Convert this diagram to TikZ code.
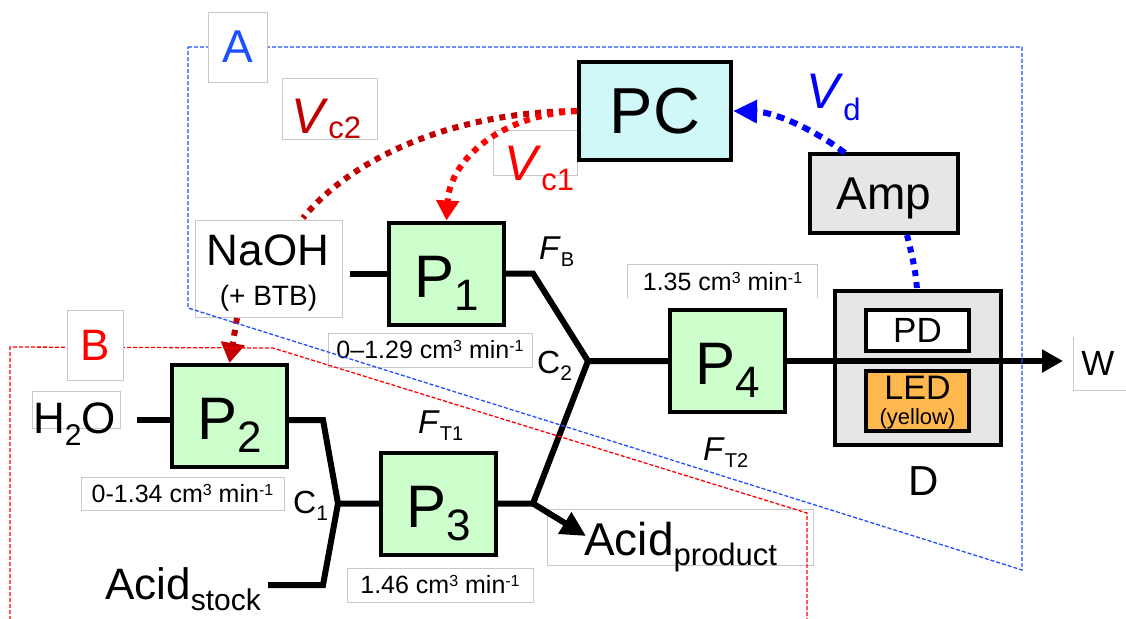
\documentclass[tikz,border=0pt]{standalone}
\usepackage{fontspec}
\setmainfont{Liberation Sans}
\usetikzlibrary{arrows.meta}
\definecolor{pgreen}{HTML}{CCFFCC}
\definecolor{pccyan}{HTML}{D0F8F8}
\definecolor{boxgray}{HTML}{E6E6E6}
\definecolor{ledorange}{HTML}{FFB84D}
\definecolor{darkred}{RGB}{192,0,0}
\definecolor{brightred}{RGB}{255,0,0}
\definecolor{sigblue}{RGB}{0,0,255}
\definecolor{regblue}{RGB}{30,80,255}
\definecolor{lgray}{RGB}{200,200,200}
\newcommand\fs[1]{\fontsize{#1pt}{#1pt}\selectfont}
\newcommand\lsub[3]{\raisebox{-#2pt}{\fs{#1}#3}}
\newcommand\sups[1]{\raisebox{7pt}{\fs{16}#1}}
\begin{document}
\begin{tikzpicture}[x=1pt,y=-1pt,
  tube/.style={line width=6pt, line join=miter},
  pbox/.style={draw, line width=4pt, fill=pgreen, minimum width=115pt, minimum height=102pt, inner sep=0pt, text height=50pt, text depth=3pt},
  lbox/.style={draw=lgray, line width=0.8pt, inner sep=0pt},
  sig/.style={line width=6pt, dash pattern=on 6pt off 6pt},
  regline/.style={line width=1.3pt, dash pattern=on 4pt off 2pt},
  txt/.style={inner sep=0pt, anchor=base west},
  ctxt/.style={inner sep=0pt, anchor=base},
  rate/.style={lbox, font=\fs{25}}
]
\useasboundingbox (0,0) rectangle (1126,618);

% ---------- label boxes (outline only) ----------
\node[lbox, minimum width=147pt, minimum height=97pt] (naohbox) at (268.5,268.5) {};
\node[lbox, minimum width=88pt, minimum height=37pt] (h2obox) at (76,409.5) {};
\node[lbox, minimum width=95pt, minimum height=61pt] (vc2box) at (329.5,108.5) {};
\node[lbox, minimum width=84pt, minimum height=45pt] (vc1box) at (535,152.5) {};
\node[lbox, minimum width=266pt, minimum height=56pt] (acpbox) at (680,537) {};
\node[inner sep=0pt, minimum width=60pt, minimum height=53pt] (wbox) at (1104,363.5) {};
\draw[lgray, line width=0.8pt] (wbox.north west) -- (wbox.south west) -- (wbox.south east);

% ---------- rate labels ----------
\node[rate, minimum width=204pt, minimum height=34pt] (r1) at (430,350) {0–1.29 cm\sups{3} min\sups{-1}};
\node[rate, minimum width=203pt, minimum height=33pt] (r2) at (182.5,493.5) {0-1.34 cm\sups{3} min\sups{-1}};
\node[rate, minimum width=186pt, minimum height=34pt] (r3) at (440,585) {1.46 cm\sups{3} min\sups{-1}};
\node[inner sep=0pt, font=\fs{25}, minimum width=189pt, minimum height=33pt] (r4) at (722.5,281.5) {1.35 cm\sups{3} min\sups{-1}};
\draw[lgray, line width=0.8pt] (r4.south west) -- (r4.north west) -- (r4.north east) -- (r4.south east);

% ---------- main boxes ----------
\node[draw, line width=4pt, fill=pccyan, minimum width=152pt, minimum height=98pt, inner sep=0pt, font=\fs{65}] (PC) at (655,111) {PC};
\node[draw, line width=4pt, fill=boxgray, minimum width=148pt, minimum height=79pt, inner sep=0pt, font=\fs{46}, text depth=0pt] (Amp) at (884,193.5) {Amp};
\node[pbox] (P1) at (446.5,273.5) {\fs{60}P\lsub{44}{13}{1}};
\node[pbox] (P2) at (229.5,416) {\fs{60}P\lsub{44}{13}{2}};
\node[pbox] (P3) at (438.5,503.5) {\fs{60}P\lsub{44}{13}{3}};
\node[pbox] (P4) at (727.5,361) {\fs{60}P\lsub{44}{13}{4}};
\node[draw, line width=4pt, fill=boxgray, minimum width=166pt, minimum height=154pt, inner sep=0pt] (D) at (918,368) {};
\node[draw, line width=4pt, fill=white, minimum width=103pt, minimum height=41pt, inner sep=0pt, font=\fs{35}] (PD) at (917.5,330.5) {PD};
\node[draw, line width=4pt, fill=ledorange, minimum width=103pt, minimum height=60pt, inner sep=0pt] (LED) at (917.5,401) {};
\node[ctxt, font=\fs{34}] (ledt) at (917.5,399) {LED};
\node[ctxt, font=\fs{22}] (ledy) at (917.5,424) {(yellow)};

% ---------- texts ----------
\node[ctxt, font=\fs{44}] (naoh) at (268,265) {NaOH};
\node[ctxt, font=\fs{28}] (btb) at (268.5,305) {(+ BTB)};
\node[txt, font=\fs{44}] (h2o) at (33,433) {H\lsub{30}{12}{2}O};
\node[txt, font=\fs{44}] (acids) at (105,599) {Acid\lsub{30}{11}{stock}};
\node[txt, font=\fs{46}] (acidp) at (584,555) {Acid\lsub{31}{10}{product}};
\node[ctxt, font=\fs{42}] (Dl) at (924,495) {D};
\node[ctxt, font=\fs{35}] (W) at (1098,375) {W};
\node[txt, font=\fs{33}] (FB) at (539,259) {\textit{F}\lsub{20}{7}{B}};
\node[txt, font=\fs{33}] (FT1) at (418,433) {\textit{F}\lsub{20}{7}{T1}};
\node[txt, font=\fs{33}] (FT2) at (703,460) {\textit{F}\lsub{20}{7}{T2}};
\node[txt, font=\fs{32}] (C2) at (537,373) {C\lsub{21}{7}{2}};
\node[txt, font=\fs{32}] (C1) at (293,513) {C\lsub{21}{7}{1}};
\node[txt, font=\fs{50}, text=darkred] (Vc2) at (291,133) {\textit{V}\lsub{31}{5}{c2}};
\node[txt, font=\fs{50}, text=brightred] (Vc1) at (504,180) {\textit{V}\lsub{31}{10}{c1}};
\node[txt, font=\fs{50}, text=sigblue] (Vd) at (806,108) {\textit{V}\lsub{31}{12}{d}};

% ---------- coordinates ----------
\coordinate (nOut) at (350,273.5);
\coordinate (b1) at (533,273.5);
\coordinate (c2) at (588,361);
\coordinate (j3) at (533,503.5);
\coordinate (aTip) at (586,536);
\coordinate (h2oOut) at (137,420);
\coordinate (b2) at (323,420);
\coordinate (c1) at (338,503.5);
\coordinate (b3) at (323,585);
\coordinate (sOut) at (268,585);
\coordinate (wTip) at (1063,361);
\coordinate (nTop) at (303,218);
\coordinate (nBot) at (237,318);
\coordinate (ampTop) at (845,153);
\coordinate (ampBot) at (907,235);
\coordinate (dTop) at (917,290);

% ---------- tubes ----------
\draw[tube] (nOut) -- (P1.west);
\draw[tube] (P1.east) -- (b1) -- (c2) -- (P4.west);
\draw[tube] (P3.east) -- (j3) -- (c2);
\draw[tube, -{Triangle[length=25pt,width=24pt]}] (j3) -- (aTip);
\draw[tube] (h2oOut) -- (P2.west |- h2oOut);
\draw[tube] (P2.east |- h2oOut) -- (b2) -- (c1) -- (P3.west);
\draw[tube] (c1) -- (b3) -- (sOut);
\draw[tube, -{Triangle[length=21pt,width=22pt]}] (P4.east) -- (wTip);

% ---------- signals ----------
\draw[sig, darkred] (PC.west) .. controls (450,112) and (350,160) .. (nTop);
\draw[sig, brightred, -{Triangle[length=20pt,width=22pt]}] (PC.west) .. controls (500,115) and (450,160) .. (P1.north);
\draw[sig, darkred, -{Triangle[length=20pt,width=23pt]}] (nBot) -- (P2.north);
\draw[sig, sigblue, dash pattern=on 8pt off 6pt, -{Triangle[length=24pt,width=22pt]}] (ampTop) .. controls (815,130) and (775,112) .. (PC.east);
\draw[sig, sigblue] (ampBot) .. controls (912,255) and (916,272) .. (dTop);

% ---------- regions ----------
\draw[regline, regblue] (188,47) -- (1022,47) -- (1022,570) -- (188,308) -- cycle;
\draw[regline, brightred] (10,620) -- (10,347) -- (273,348) -- (807,513) -- (807,620);

\node[lbox, fill=white, minimum width=59pt, minimum height=70pt, font=\fs{46}, text=regblue] (labA) at (237.5,47) {A};
\node[lbox, fill=white, minimum width=56pt, minimum height=70pt, font=\fs{44}, text=brightred] (labB) at (95,345) {B};
\end{tikzpicture}
\end{document}
